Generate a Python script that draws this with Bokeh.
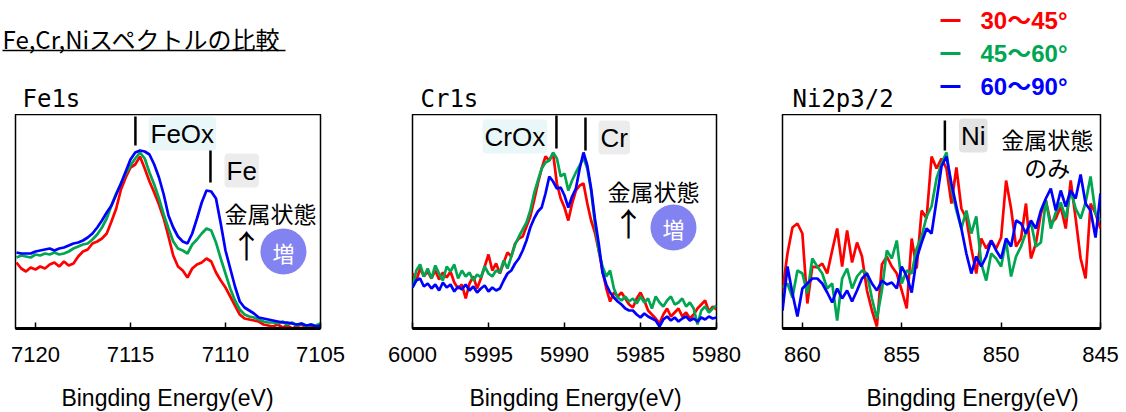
from bokeh.plotting import figure
from bokeh.models import Range1d, FixedTicker
from bokeh.layouts import column, row
from bokeh.embed import file_html
from bokeh.resources import INLINE
from bokeh.core.properties import value

# ---------------- data ----------------
SERIES_LABELS = ["30〜45°", "45〜60°", "60〜90°"]
SERIES_COLORS = ["#ff0000", "#00a651", "#0000ff"]
X_LABEL = "Bingding Energy(eV)"

FE_TICKS = [7120, 7115, 7110, 7105]
CR_TICKS = [6000, 5995, 5990, 5985, 5980]
NI_TICKS = [860, 855, 850, 845]

FE_E = [7121.0 - 0.25 * i for i in range(65)]
FE_30_45 = [66, 60, 57, 61, 59, 62, 60, 64, 66, 62, 67, 63, 65, 72, 77, 79, 85, 87, 90, 95,
            107, 120, 139, 151, 161, 164, 172, 160, 147, 136, 124, 110, 92, 73, 62, 58, 51, 60, 64, 66,
            70, 67, 56, 48, 41, 32, 23, 14, 10, 9, 8, 7, 4, 3, 2, 4, 1, 3, 0, 2,
            4, 1, 3, 2, 4]
FE_45_60 = [71, 73, 72, 71, 74, 73, 75, 74, 76, 74, 75, 77, 80, 82, 84, 85, 89, 94, 101, 110,
            123, 135, 145, 155, 163, 170, 176, 170, 156, 144, 130, 114, 100, 87, 80, 78, 75, 84, 89, 95,
            100, 98, 86, 70, 55, 40, 28, 19, 14, 12, 11, 9, 7, 6, 6, 5, 7, 4, 6, 3,
            5, 2, 4, 3, 5]
FE_60_90 = [76, 75, 75, 75, 77, 78, 79, 80, 78, 80, 81, 83, 85, 86, 88, 91, 95, 101, 108, 116,
            123, 134, 145, 157, 169, 176, 178, 177, 174, 164, 151, 134, 113, 101, 92, 87, 85, 95, 110, 126,
            138, 137, 130, 105, 78, 60, 42, 27, 21, 18, 15, 11, 10, 9, 8, 7, 6, 6, 5, 4,
            5, 3, 4, 2, 3]

CR_E = [6000.0 - 0.25 * i for i in range(81)]
CR_30_45 = [55, 48, 60, 52, 57, 50, 58, 49, 56, 51, 57, 46, 40, 44, 30, 45, 52, 40, 50, 62,
            74, 58, 65, 55, 66, 76, 72, 85, 90, 92, 102, 112, 128, 145, 160, 172, 168, 175, 145, 130,
            121, 108, 125, 138, 143, 145, 125, 108, 96, 78, 58, 40, 27, 36, 32, 36, 30, 24, 21, 30,
            36, 28, 18, 14, 10, 5, 14, 20, 12, 16, 20, 12, 16, 10, 14, 20, 24, 28, 17, 22,
            19]
CR_45_60 = [41, 58, 64, 52, 60, 50, 63, 55, 48, 62, 57, 64, 50, 58, 52, 56, 48, 54, 51, 62,
            55, 52, 58, 56, 68, 60, 72, 84, 92, 99, 106, 118, 135, 148, 160, 166, 168, 176, 170, 152,
            155, 138, 148, 156, 163, 171, 160, 138, 105, 78, 62, 52, 58, 40, 31, 28, 32, 27, 30, 25,
            32, 26, 30, 20, 32, 26, 22, 28, 32, 24, 26, 30, 22, 26, 20, 4, 18, 22, 16, 20,
            23]
CR_60_90 = [41, 48, 50, 42, 45, 40, 44, 38, 46, 41, 44, 37, 42, 39, 44, 38, 42, 36, 40, 43,
            37, 41, 38, 40, 48, 55, 58, 65, 70, 78, 88, 101, 110, 117, 121, 135, 152, 147, 140, 141,
            133, 121, 132, 140, 160, 176, 163, 140, 110, 85, 56, 44, 36, 31, 27, 24, 20, 18, 18, 14,
            11, 15, 12, 10, 8, 2, 9, 12, 8, 11, 7, 10, 12, 8, 10, 7, 11, 9, 12, 10,
            11]

NI_E = [861.0 - 0.25 * i for i in range(65)]
NI_30_45 = [38, 75, 101, 105, 95, 25, 62, 61, 65, 55, 78, 100, 62, 98, 66, 86, 72, 38, 18, 2,
            64, 72, 62, 55, 38, 20, 90, 60, 118, 110, 172, 160, 170, 160, 125, 161, 120, 110, 80, 55,
            90, 80, 88, 80, 91, 148, 120, 82, 90, 125, 70, 85, 115, 128, 105, 110, 122, 100, 148, 110,
            70, 50, 125, 115, 100]
NI_45_60 = [41, 45, 31, 58, 55, 35, 70, 62, 55, 40, 45, 8, 50, 60, 40, 52, 58, 55, 30, 10,
            38, 78, 70, 88, 45, 58, 55, 80, 92, 112, 122, 150, 165, 176, 140, 118, 100, 118, 95, 112,
            65, 48, 75, 70, 62, 88, 52, 72, 82, 96, 106, 82, 86, 128, 100, 116, 126, 110, 138, 120,
            110, 126, 152, 115, 108]
NI_60_90 = [18, 62, 35, 12, 40, 45, 50, 50, 45, 36, 26, 40, 30, 38, 27, 38, 50, 55, 45, 38,
            48, 44, 46, 40, 62, 52, 36, 70, 86, 100, 95, 128, 162, 172, 145, 122, 100, 75, 55, 72,
            62, 72, 88, 78, 70, 90, 82, 108, 105, 95, 108, 100, 118, 130, 140, 118, 138, 122, 138, 130,
            154, 125, 118, 91, 135]

# ---------------- styling ----------------
CJK = "Noto Sans CJK JP"
LATIN = "Liberation Sans"
LEGEND_FONT = "Liberation Sans, Noto Sans CJK JP"
CIRCLE_COLOR = "#8282f0"
TOTAL_W = 1126
HEADER_H = 114
PANEL_H = 266
FOOTER_H = 412 - HEADER_H - PANEL_H


def make_panel(x_range, ticks, width, left, right):
    p = figure(width=width, height=PANEL_H, x_range=Range1d(*x_range), y_range=Range1d(0, 214),
               output_backend="svg", toolbar_location=None, y_axis_location=None,
               min_border_left=left, min_border_right=right, min_border_top=0,
               min_border_bottom=PANEL_H - 214)
    p.grid.visible = False
    p.outline_line_color = "black"
    p.outline_line_width = 1.5
    ax = p.xaxis[0]
    ax.ticker = FixedTicker(ticks=ticks)
    ax.major_tick_in = 6
    ax.major_tick_out = 0
    ax.major_tick_line_width = 1.5
    ax.minor_tick_line_color = None
    ax.axis_line_width = 3
    ax.major_label_text_font = LATIN
    ax.major_label_text_font_size = "22px"
    ax.major_label_text_color = "black"
    ax.major_label_standoff = 18
    return p


def add_series(p, xs, ys_list):
    for ys, c in zip(ys_list, SERIES_COLORS):
        p.line(xs, ys, line_color=c, line_width=2.7)


def bar(p, x, y0, y1):
    p.segment(x0=[x], y0=[y0], x1=[x], y1=[y1], line_color="black", line_width=2.5)


def label(p, x, y, txt, size="26px", font=LATIN, align="left", color="black", glow=None):
    kw = {}
    if glow is not None:
        kw = dict(background_fill_color=glow, background_fill_alpha=0.35, padding=2,
                  border_radius=4)
    p.text(x=[x], y=[y], text=[txt], text_font=value(font), text_font_size=size,
           text_align=align, text_baseline="middle", text_color=color, **kw)


def badge(p, x, y):
    p.scatter(x=[x], y=[y], size=46, marker="circle", fill_color=CIRCLE_COLOR,
              line_color=None)
    label(p, x, y, "増", size="22px", font=CJK, align="center", color="white")


# ---------------- panel 1: Fe1s ----------------
p1 = make_panel((7121.05, 7105), FE_TICKS, 364, 15, 44)
add_series(p1, FE_E, [FE_30_45, FE_45_60, FE_60_90])
bar(p1, 7114.74, 183, 212)
label(p1, 7114.05, 195, "FeOx", glow="#bfe8ea")
bar(p1, 7110.79, 146, 178)
label(p1, 7110.05, 158, "Fe", glow="#c8c8c8")
label(p1, 7110.05, 116, "金属状態", size="23px", font=CJK)
label(p1, 7108.9, 85, "↑", size="32px", font=CJK, align="center")
badge(p1, 7106.95, 77)

# ---------------- panel 2: Cr1s ----------------
p2 = make_panel((6000, 5980), CR_TICKS, 384, 48, 32)
add_series(p2, CR_E, [CR_30_45, CR_45_60, CR_60_90])
label(p2, 5995.39, 192, "CrOx", glow="#bfe8ea")
bar(p2, 5990.53, 180, 213)
bar(p2, 5988.62, 178, 211)
label(p2, 5987.76, 191, "Cr", glow="#c8c8c8")
label(p2, 5987.17, 138, "金属状態", size="23px", font=CJK)
label(p2, 5985.79, 107, "↑", size="32px", font=CJK, align="center")
badge(p2, 5982.83, 101)

# ---------------- panel 3: Ni2p3/2 ----------------
p3 = make_panel((861.0, 845), NI_TICKS, 378, 34, 26)
add_series(p3, NI_E, [NI_30_45, NI_45_60, NI_60_90])
bar(p3, 852.83, 178, 208)
label(p3, 852.12, 193, "Ni", glow="#b0b0b0")
label(p3, 850.0, 190, "金属状態", size="23px", font=CJK)
label(p3, 847.68, 162, "のみ", size="23px", font=CJK, align="center")


def strip(height):
    f = figure(width=TOTAL_W, height=height, x_range=Range1d(0, TOTAL_W),
               y_range=Range1d(height, 0), output_backend="svg", toolbar_location=None,
               x_axis_location=None, y_axis_location=None, min_border=0)
    f.grid.visible = False
    f.outline_line_color = None
    return f


# ---------------- header: title, panel names, legend ----------------
hdr = strip(HEADER_H)
hdr.text(x=[2], y=[38], text=["Fe,Cr,Niスペクトルの比較"], text_font=value(CJK),
         text_font_size="24px", text_baseline="middle", text_color="black")
hdr.segment(x0=[2], y0=[50], x1=[285], y1=[50], line_color="black", line_width=1.5)
for x, name in [(22, "Fe1s"), (420, "Cr1s"), (792, "Ni2p3/2")]:
    hdr.text(x=[x], y=[98], text=[name], text_font=value("DejaVu Sans Mono"),
             text_font_size="24px", text_baseline="middle", text_color="black")

# legend (one row per angle range, label coloured like its series)
legend_rows_y = [20, 53, 86]
for lab, col, yc in zip(SERIES_LABELS, SERIES_COLORS, legend_rows_y):
    hdr.segment(x0=[940], y0=[yc], x1=[960], y1=[yc], line_color=col, line_width=3)
    hdr.text(x=[980], y=[yc], text=[lab], text_font=value(LEGEND_FONT),
             text_font_size="24px", text_font_style="bold", text_baseline="middle",
             text_color=col)

# ---------------- footer: x-axis titles ----------------
ftr = strip(FOOTER_H)
ftr.text(x=[167, 575, 972], y=[17] * 3, text=[X_LABEL] * 3, text_font=value(LATIN),
         text_font_size="23px", text_align="center", text_baseline="middle",
         text_color="black")

layout = column(hdr, row(p1, p2, p3), ftr)
open("out.html", "w").write(file_html(layout, INLINE))
